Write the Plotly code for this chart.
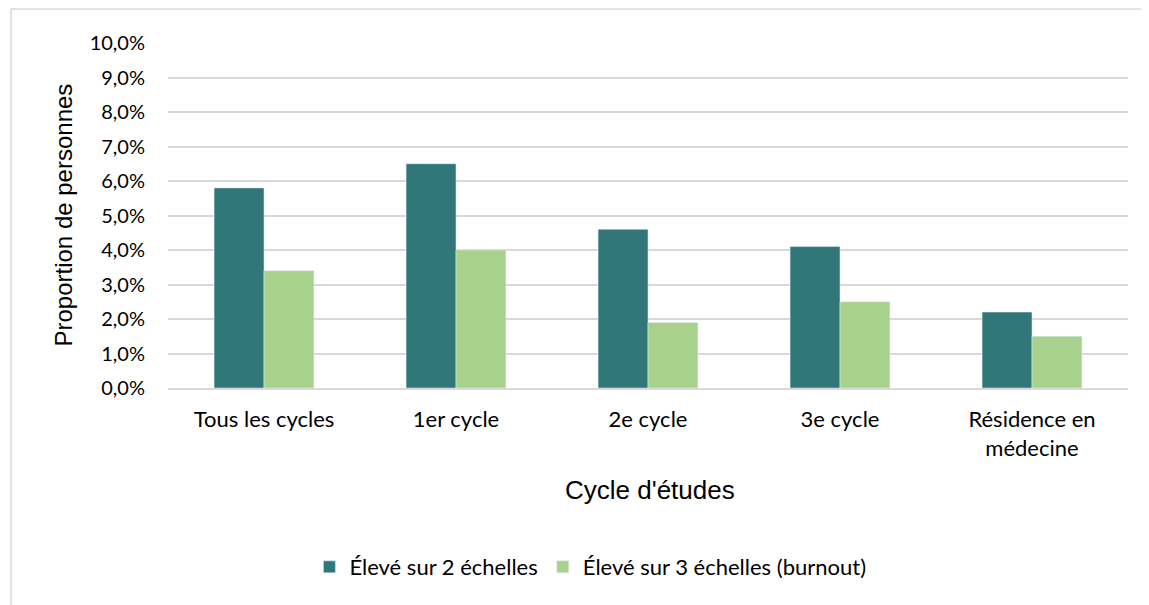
import plotly.graph_objects as go

categories = ["Tous les cycles", "1er cycle", "2e cycle", "3e cycle", "Résidence en<br>médecine"]
eleve_2 = [5.8, 6.5, 4.6, 4.1, 2.2]
eleve_3 = [3.4, 4.0, 1.9, 2.5, 1.5]
series_names = ["Élevé sur 2 échelles", "Élevé sur 3 échelles (burnout)"]
tick_vals = [0, 1, 2, 3, 4, 5, 6, 7, 8, 9, 10]
tick_text = [f"{v:.1f}".replace(".", ",") + "%" for v in tick_vals]

fig = go.Figure()
fig.add_trace(go.Bar(x=categories, y=eleve_2, name=series_names[0], marker_color="#31777A"))
fig.add_trace(go.Bar(x=categories, y=eleve_3, name=series_names[1], marker_color="#A9D18E"))

fig.update_layout(
    width=1141, height=597,
    margin=dict(l=160, r=21, t=35, b=217),
    paper_bgcolor="white", plot_bgcolor="white",
    barmode="group", bargap=0.48, bargroupgap=0,
    showlegend=True,
    legend=dict(orientation="h", x=0.44, xanchor="center", y=-0.519, yanchor="middle",
                font=dict(family="Lato, Open Sans, sans-serif", size=22, color="#000000"),
                itemwidth=30, traceorder="normal"),
    xaxis=dict(showgrid=False, showline=True, linecolor="#D9D9D9", linewidth=1.5,
               tickfont=dict(family="Lato, Open Sans, sans-serif", size=22, color="#000000"),
               ticks="", ticklabelstandoff=11),
    yaxis=dict(range=[0, 10], tickmode="array", tickvals=tick_vals, ticktext=tick_text,
               showgrid=True, gridcolor="#D9D9D9", gridwidth=1.5, zeroline=False,
               tickfont=dict(family="Lato, Open Sans, sans-serif", size=20, color="#000000"),
               ticks="", ticklabelstandoff=22),
    annotations=[
        dict(text="Cycle d'études", xref="paper", yref="paper", x=0.502, y=-0.296,
             xanchor="center", yanchor="middle", showarrow=False,
             font=dict(family="Liberation Sans, Arial, sans-serif", size=26, color="#000000")),
        dict(text="Proportion de personnes", xref="paper", yref="paper", x=-0.109, y=0.501,
             xanchor="center", yanchor="middle", showarrow=False, textangle=-90,
             font=dict(family="Liberation Sans, Arial, sans-serif", size=24, color="#000000")),
    ],
    shapes=[
        dict(type="rect", xref="paper", yref="paper", x0=-0.1635, x1=1.05, y0=-0.70, y1=1.0986,
             line=dict(color="#D9D9D9", width=1.5), fillcolor="rgba(0,0,0,0)", layer="below"),
    ],
)

fig.write_html("out.html")
